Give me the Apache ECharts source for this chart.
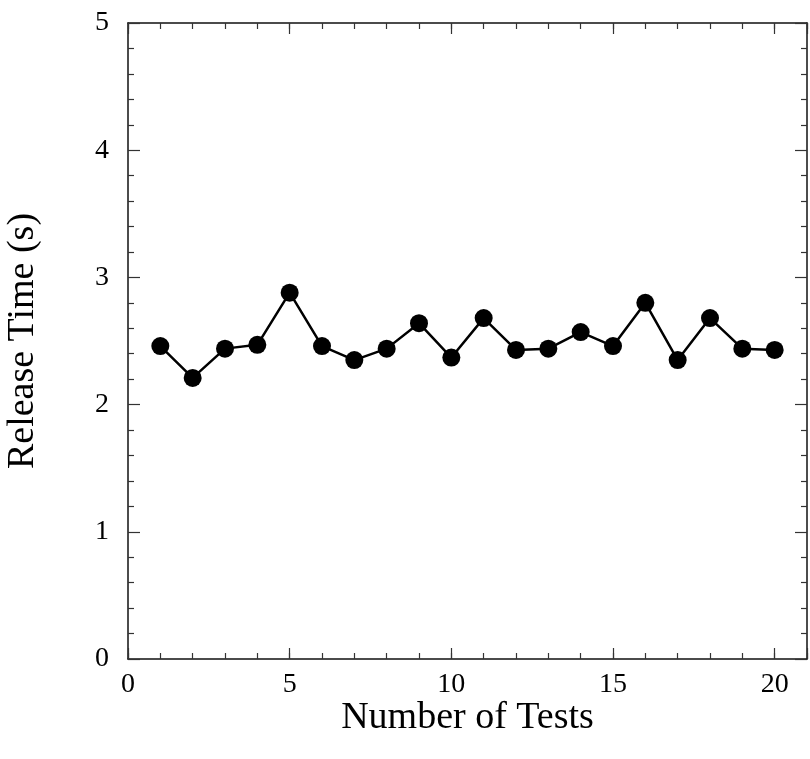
<!DOCTYPE html>
<html><head><meta charset="utf-8">
<script src="https://cdn.jsdelivr.net/npm/echarts@6/dist/echarts.min.js"></script>
<style>html,body{margin:0;padding:0;background:#fff}#c{width:810px;height:759px}</style>
</head><body><div id="c"></div>
<script>
const tests = [1,2,3,4,5,6,7,8,9,10,11,12,13,14,15,16,17,18,19,20];
const releaseTime = [2.46,2.21,2.44,2.47,2.88,2.46,2.35,2.44,2.64,2.37,2.68,2.43,2.44,2.57,2.46,2.80,2.35,2.68,2.44,2.43];
const xTickLabels = ['0','5','10','15','20'];
const yTickLabels = ['0','1','2','3','4','5'];

const font = 'Liberation Serif';
const lineCol = '#111';
function xAx(pos, interval, len, labels, name) {
  return {
    type:'value', position:pos, min:0, max:21, interval:interval,
    name: name || '', nameLocation:'middle', nameGap:40, nameMoveOverlap:false,
    nameTextStyle:{fontFamily:font, fontSize:38, color:'#000'},
    axisLine:{show:interval===5, onZero:false, lineStyle:{color:lineCol, width:1.5}},
    axisTick:{show:true, inside:true, length:len, lineStyle:{color:'#333', width:1.2}},
    axisLabel:{show:labels, margin:12, fontFamily:font, fontSize:28, color:'#000',
      formatter: v => xTickLabels.indexOf(String(v))>=0 ? String(v) : ''},
    splitLine:{show:false}
  };
}
function yAx(pos, labels, name) {
  return {
    type:'value', position:pos, min:0, max:5, interval:1,
    name: name || '', nameLocation:'middle', nameGap:86, nameMoveOverlap:false,
    nameTextStyle:{fontFamily:font, fontSize:38, color:'#000'},
    axisLine:{show:true, onZero:false, lineStyle:{color:lineCol, width:1.5}},
    axisTick:{show:true, inside:true, length:12, lineStyle:{color:'#333', width:1.2}},
    minorTick:{show:true, splitNumber:5, length:6, lineStyle:{color:'#333', width:1.2}},
    axisLabel:{show:labels, margin:19, fontFamily:font, fontSize:28, color:'#000',
      formatter: v => yTickLabels.indexOf(String(v))>=0 ? String(v) : ''},
    splitLine:{show:false}
  };
}
const chart = echarts.init(document.getElementById('c'), null, {renderer:'canvas'});
chart.setOption({
  backgroundColor:'#fff',
  animation:false,
  grid:{left:128, right:3, top:23, bottom:100, containLabel:false, outerBoundsMode:'none'},
  xAxis:[
    xAx('bottom',5,11,true,'Number of Tests'),
    xAx('bottom',1,6,false),
    xAx('top',5,11,false),
    xAx('top',1,6,false)
  ],
  yAxis:[
    yAx('left',true,'Release Time (s)'),
    yAx('right',false)
  ],
  series:[{
    type:'line', xAxisIndex:0, yAxisIndex:0,
    data: tests.map((t,i)=>[t, releaseTime[i]]),
    symbol:'circle', symbolSize:18,
    lineStyle:{color:'#000', width:2.5},
    itemStyle:{color:'#000'}
  }]
});
</script></body></html>
